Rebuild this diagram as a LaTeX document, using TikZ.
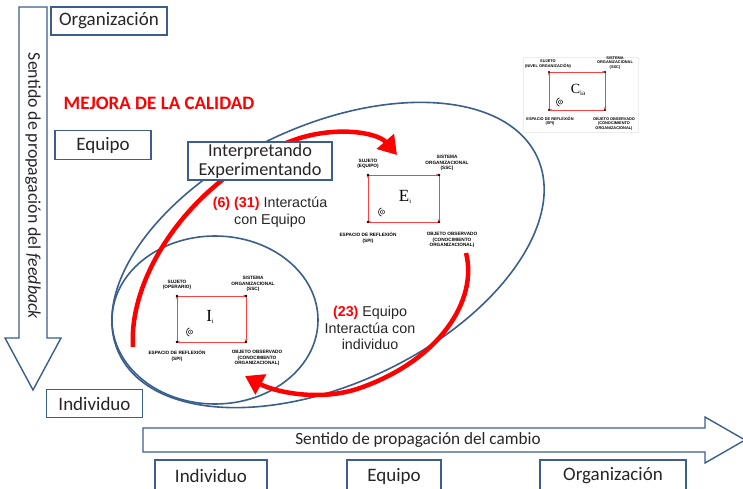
\documentclass[tikz,border=0pt]{standalone}
\usepackage{fontspec}
\setmainfont{Carlito}
\newfontfamily\arialf{Liberation Sans}
\newfontfamily\serf{Liberation Serif}
\usetikzlibrary{arrows.meta,calc}
\definecolor{bl}{RGB}{58,95,140}
\definecolor{txt}{RGB}{38,38,38}
\newcommand\myspir[2]{%
  \draw[line width=0.45pt] (#1+1.5,#2) circle (2.1);
  \fill (#1+1.5,#2) circle (0.7);
  \draw[line width=0.6pt] (#1+0.5,#2-4.2) .. controls (#1-3.5,#2-3.5) and (#1-3.5,#2+3.5) .. (#1+0.5,#2+4.2);
}
\begin{document}
\begin{tikzpicture}[x=1pt,y=-1pt,
  box/.style={draw=bl, line width=1.4pt, fill=white, text=txt, font=\fontsize{19}{22}\selectfont, inner sep=0pt},
  tl/.style={font=\arialf\bfseries\fontsize{4.7}{5.4}\selectfont, align=center, inner sep=0pt, text=black},
  tls/.style={font=\arialf\bfseries\fontsize{3.9}{4.5}\selectfont, align=center, inner sep=0pt, text=black},
  rl/.style={draw=red!75, line width=0.7pt, -{Stealth[length=3pt,width=2.6pt]}},
  ell/.style={draw=bl, line width=1.6pt},
  bigred/.style={draw=red, line width=4.5pt, -{Triangle[length=18pt,width=22pt]}},
  lab/.style={font=\arialf\fontsize{14.3}{16.5}\selectfont, align=center, text=txt, inner sep=0pt}
]
\useasboundingbox (0,0) rectangle (743,489);
\clip (0,0) rectangle (743,489);

% vertical feedback arrow
\draw[bl, line width=1.4pt, fill=white] (19,7) -- (47,7) -- (47,338) -- (61,338) -- (33,390) -- (5,338) -- (19,338) -- cycle;
\node[rotate=-90, text=txt, font=\fontsize{17.8}{20}\selectfont] (fb) at (33,186) {Sentido de propagación del \textit{feedback}};

% horizontal change arrow
\draw[bl, line width=1.4pt, fill=white] (143,428) -- (705,428) -- (705,417) -- (745,440) -- (705,463) -- (705,452) -- (143,452) -- cycle;
\node[text=txt, font=\fontsize{17.2}{20}\selectfont] (ch) at (418,440) {Sentido de propagación del cambio};

% level boxes
\node[box, minimum width=116pt, minimum height=28pt] (org1) at (109,21) {Organización};
\node[box, minimum width=96pt, minimum height=29pt] (eq1) at (103,145) {Equipo};
\node[box, minimum width=96pt, minimum height=28pt] (ind1) at (94.5,403.5) {Individuo};
\node[box, minimum width=112pt, minimum height=32pt] (ind2) at (211,476) {Individuo};
\node[box, minimum width=94pt, minimum height=32pt] (eq2) at (394,476) {Equipo};
\node[box, minimum width=146pt, minimum height=32pt] (org2) at (613,476) {Organización};

% title
\node[text=red, font=\bfseries\fontsize{19}{22}\selectfont] (mej) at (159,103) {MEJORA DE LA CALIDAD};

% ellipses
\draw[ell, rotate around={25.2:(328,255)}] (328,255) ellipse [x radius=231pt, y radius=129pt];
\draw[ell] (215,320) ellipse [x radius=103pt, y radius=84pt];

% red arrows
\coordinate (r1s) at (133,347);
\coordinate (r1m) at (300,138);
\coordinate (r1e) at (397,155);
\draw[bigred] (r1s) .. controls (128,270) and (200,170) .. (r1m) .. controls (340,126) and (378,133) .. (r1e);
\coordinate (r2s) at (466,253);
\coordinate (r2m) at (360,388);
\coordinate (r2e) at (245,376);
\draw[bigred] (r2s) .. controls (478,300) and (440,360) .. (r2m) .. controls (320,402) and (275,392) .. (r2e);

% Interpretando box
\node[box, minimum width=144pt, minimum height=38pt, align=center, font=\fontsize{18.3}{19}\selectfont] (int) at (260,161) {Interpretando\\Experimentando};

% labels
\node[lab] (l1) at (270,212) {\textcolor{red}{\textbf{(6) (31)}} Interactúa\\con Equipo};
\node[lab] (l2) at (370,328) {\textcolor{red}{\textbf{(23)}} Equipo\\Interactúa con\\individuo};

% E diagram
\coordinate (ea) at (368,175);
\coordinate (eb) at (439,175);
\coordinate (ec) at (439,222);
\coordinate (ed) at (368,222);
\draw[rl] (ea) -- (eb);
\draw[rl] (eb) -- (ec);
\draw[rl] (ec) -- (ed);
\draw[rl] (ed) -- (ea);
\foreach \p in {ea,eb,ec,ed} \fill (\p) circle (1.4);
\node[tl] (es) at (368,164) {SUJETO\\(EQUIPO)};
\node[tl] (esy) at (447,163) {SISTEMA\\ORGANIZACIONAL\\(SSC)};
\node[tl] (ees) at (368,238) {ESPACIO DE REFLEXIÓN\\(SPI)};
\node[tl] (eob) at (452,240) {OBJETO OBSERVADO\\(CONOCIMIENTO\\ORGANIZACIONAL)};
\node[inner sep=0pt] (elet) at (405,197) {\serf\fontsize{17}{17}\selectfont E\raisebox{-1.5pt}{\fontsize{6.5}{6.5}\selectfont i}};
\myspir{381}{212}

% I diagram
\coordinate (ia) at (177,296);
\coordinate (ib) at (246,296);
\coordinate (ic) at (246,342);
\coordinate (id) at (177,342);
\draw[rl] (ia) -- (ib);
\draw[rl] (ib) -- (ic);
\draw[rl] (ic) -- (id);
\draw[rl] (id) -- (ia);
\foreach \p in {ia,ib,ic,id} \fill (\p) circle (1.4);
\node[tl] (is) at (177,285) {SUJETO\\(OPERARIO)};
\node[tl] (isy) at (253,284) {SISTEMA\\ORGANIZACIONAL\\(SSC)};
\node[tl] (ies) at (177,356) {ESPACIO DE REFLEXIÓN\\(SPI)};
\node[tl] (iob) at (257,358) {OBJETO OBSERVADO\\(CONOCIMIENTO\\ORGANIZACIONAL)};
\node[inner sep=0pt] (ilet) at (210,317) {\serf\fontsize{17}{17}\selectfont I\raisebox{-1.5pt}{\fontsize{6.5}{6.5}\selectfont i}};
\myspir{189}{332}

% C diagram
\draw[black!7, line width=0.5pt] (523,57) rectangle (638,132);
\coordinate (ca) at (549,72);
\coordinate (cb) at (605,72);
\coordinate (cc) at (605,110);
\coordinate (cd) at (549,110);
\draw[rl] (ca) -- (cb);
\draw[rl] (cb) -- (cc);
\draw[rl] (cc) -- (cd);
\draw[rl] (cd) -- (ca);
\foreach \p in {ca,cb,cc,cd} \fill (\p) circle (1.2);
\node[tls] (cs) at (548,64) {SUJETO\\(NIVEL ORGANIZACIÓN)};
\node[tls] (csy) at (615,63) {SISTEMA\\ORGANIZACIONAL\\(SSC)};
\node[tls] (ces) at (550,121) {ESPACIO DE REFLEXIÓN\\(SPI)};
\node[tls] (cob) at (614,124) {OBJETO OBSERVADO\\(CONOCIMIENTO\\ORGANIZACIONAL)};
\node[inner sep=0pt] (clet) at (578,90) {\serf\fontsize{14}{14}\selectfont C\raisebox{-1.2pt}{\fontsize{7}{7}\selectfont ia}};
\myspir{559}{102}
\end{tikzpicture}
\end{document}
